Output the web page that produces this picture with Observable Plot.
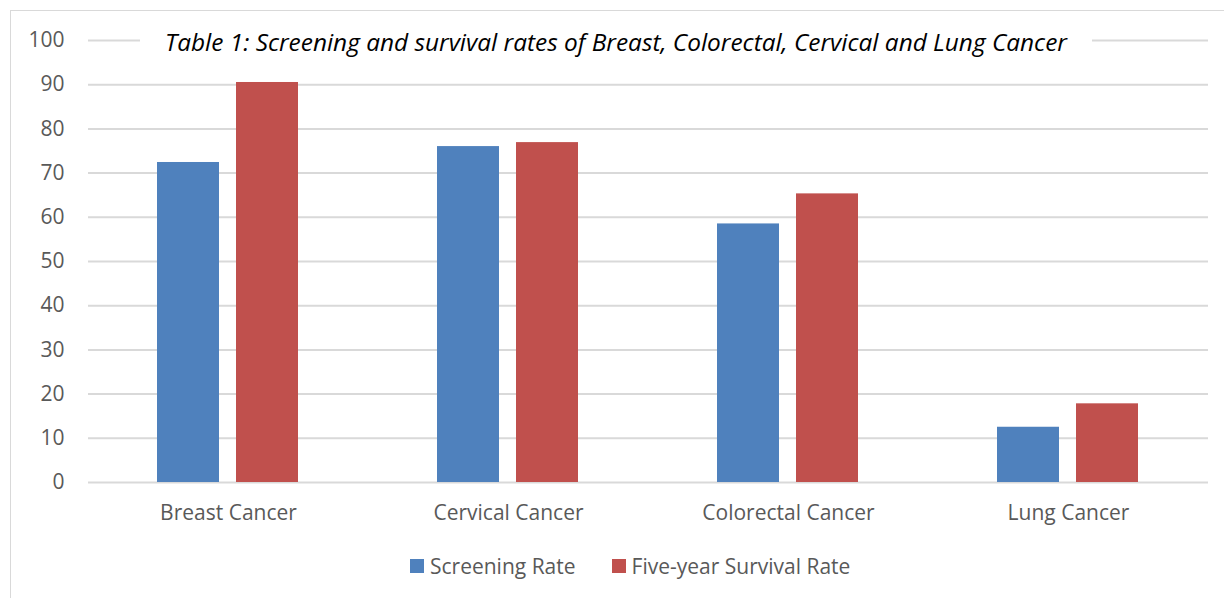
<!DOCTYPE html>
<html><head><meta charset="utf-8">
<script src="https://cdn.jsdelivr.net/npm/d3@7"></script>
<script src="https://cdn.jsdelivr.net/npm/@observablehq/plot@0.6"></script>
<style>
html,body{margin:0;padding:0;background:#fff;overflow:hidden;width:1224px;height:598px;}
#wrap{position:relative;width:1224px;height:598px;font-family:"Open Sans",sans-serif;color:#595959;}
#frame{position:absolute;left:10px;top:10px;width:1400px;height:800px;border:1.5px solid #d9d9d9;}
#chart{position:absolute;left:0;top:0;}
#title{position:absolute;left:140px;top:22px;width:952px;height:40px;background:#fff;text-align:center;font-style:italic;font-size:24.4px;color:#000;line-height:40px;white-space:nowrap;}
#legend{position:absolute;left:410px;top:552px;display:flex;align-items:center;font-size:21px;height:28px;}
.sw{width:14px;height:14px;display:inline-block;margin-right:6px;}
.item{display:flex;align-items:center;margin-right:36px;}
</style></head>
<body><div id="wrap"><div id="frame"></div><div id="chart"></div>
<div id="title">Table 1: Screening and survival rates of Breast, Colorectal, Cervical and Lung Cancer</div>
<div id="legend"></div></div>
<script>
const categories = ["Breast Cancer","Cervical Cancer","Colorectal Cancer","Lung Cancer"];
const series = ["Screening Rate","Five-year Survival Rate"];
const screening = [72.4, 76.0, 58.5, 12.5];
const survival = [90.5, 76.9, 65.3, 17.8];
const colors = ["#4f81bd","#c0504d"];
const yTicks = [0,10,20,30,40,50,60,70,80,90,100];

const data = [];
categories.forEach((c,i)=>{
  data.push({category:c, series:series[0], value:screening[i]});
  data.push({category:c, series:series[1], value:survival[i]});
});

const chart = Plot.plot({
  width:1224, height:530,
  marginLeft:87, marginRight:15, marginTop:40, marginBottom:48,
  style:{fontFamily:"Open Sans, sans-serif", fontSize:"21px", color:"#595959", background:"transparent"},
  fx:{domain:categories, padding:0, label:null, tickSize:0, tickPadding:23, axis:"bottom"},
  x:{domain:series, paddingInner:0.2125, paddingOuter:0.859, axis:null},
  y:{domain:[0,100], ticks:yTicks, tickSize:0, tickPadding:24, label:null},
  color:{domain:series, range:colors},
  marks:[
    Plot.gridY(yTicks,{stroke:"#d9d9d9", strokeOpacity:1, strokeWidth:2}),
    Plot.barY(data,{fx:"category", x:"series", y:"value", fill:"series"})
  ]
});
document.getElementById("chart").appendChild(chart);

const legend = document.getElementById("legend");
series.forEach((s,i)=>{
  const it = document.createElement("div");
  it.className="item";
  it.innerHTML = `<span class="sw" style="background:${colors[i]}"></span><span>${s}</span>`;
  legend.appendChild(it);
});
</script></body></html>
